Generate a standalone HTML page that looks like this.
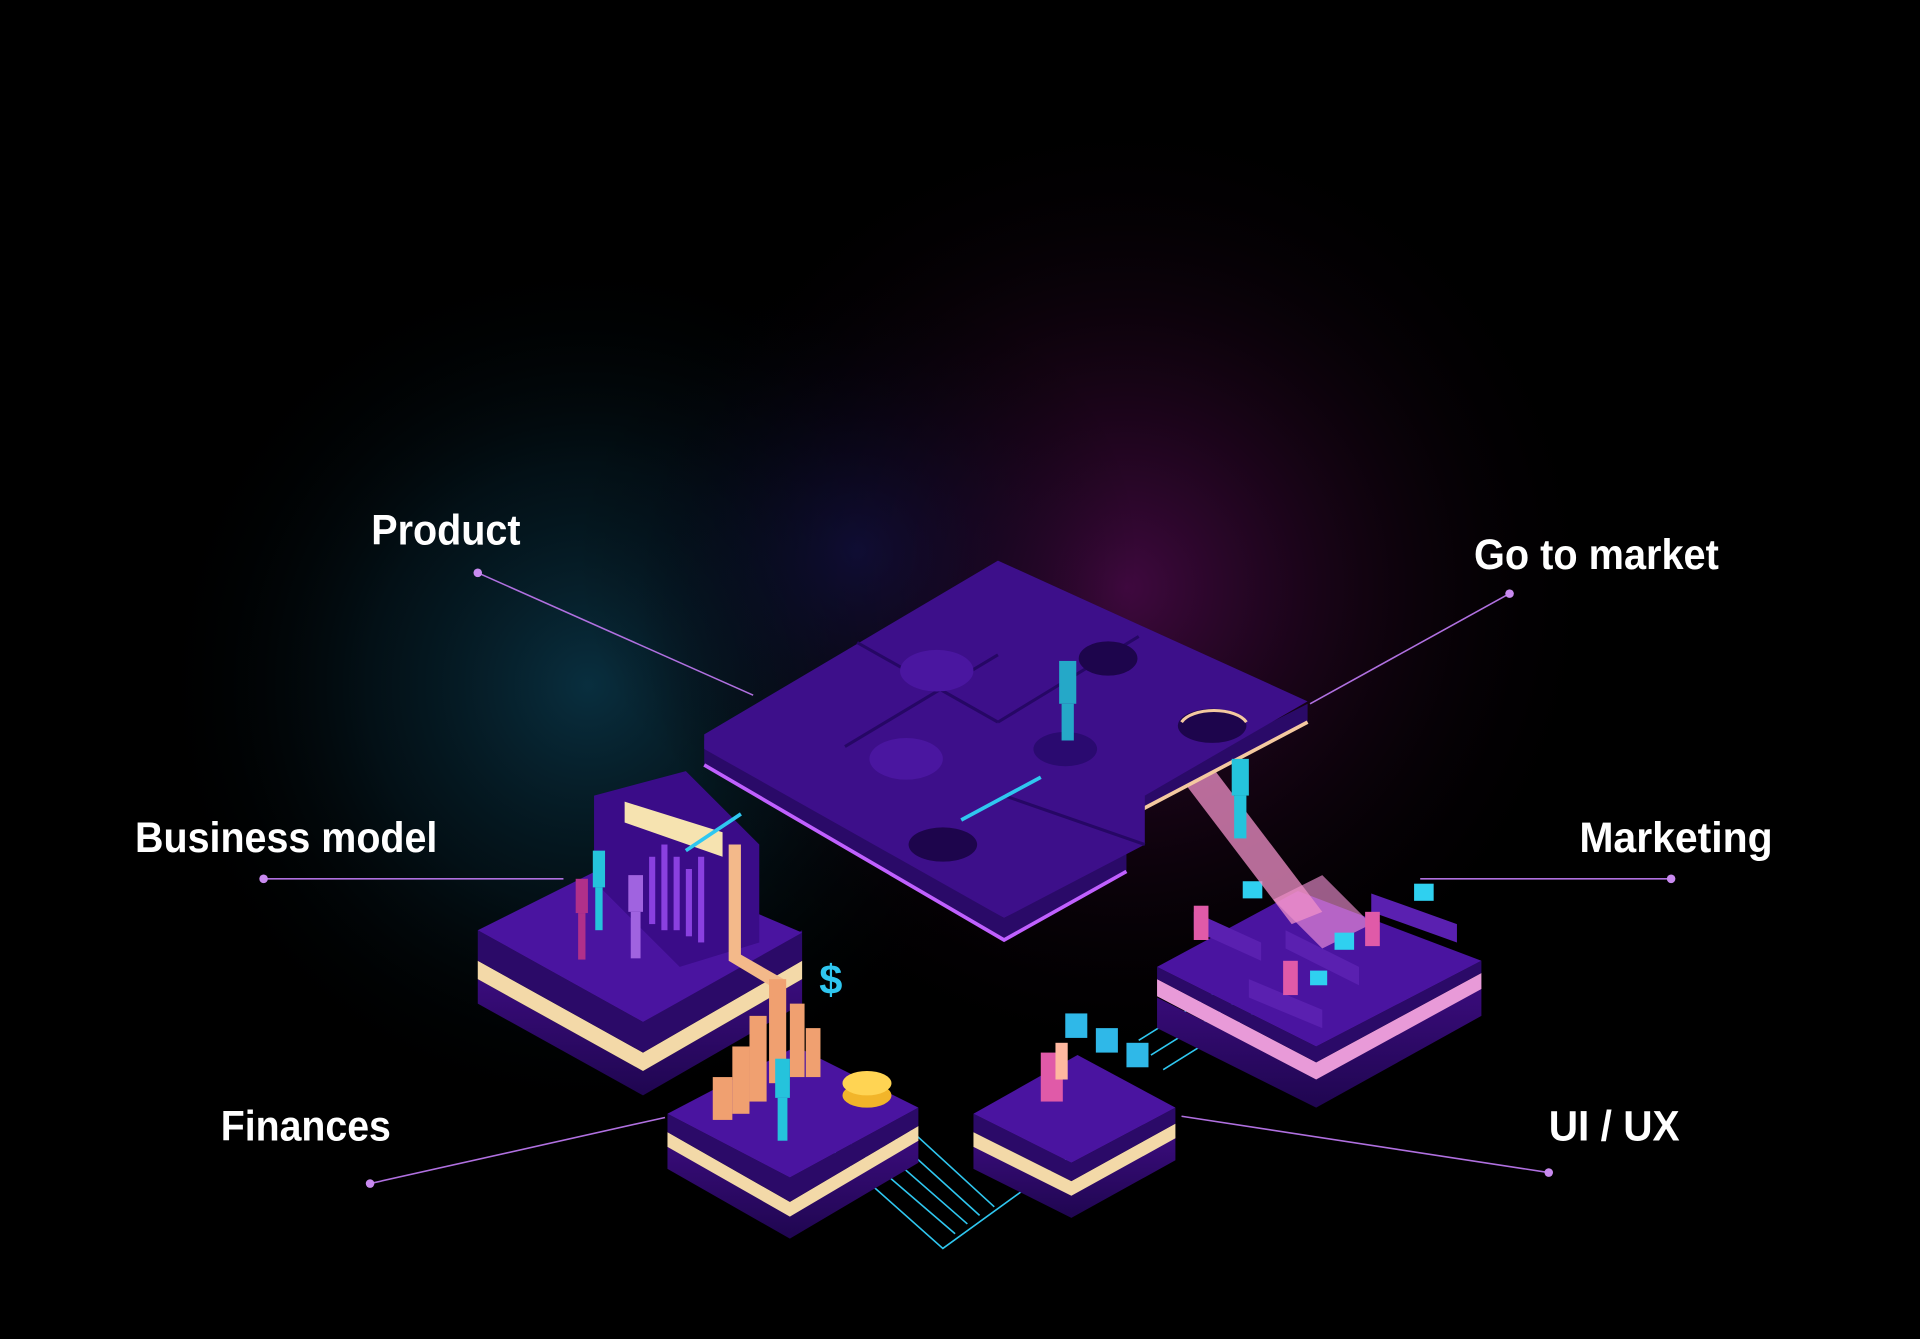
<!DOCTYPE html>
<html><head><meta charset="utf-8"><style>
html,body{margin:0;padding:0;background:#000;}
svg{display:block}
text{font-family:"Liberation Sans Narrow","Liberation Sans",sans-serif;font-weight:bold;fill:#fff;}
</style></head><body>
<svg width="1920" height="1339" viewBox="0 0 1568 1094" xmlns="http://www.w3.org/2000/svg">
<defs>
<radialGradient id="g1" cx="480" cy="560" r="360" gradientUnits="userSpaceOnUse">
<stop offset="0" stop-color="#0b3a4e" stop-opacity="0.8"/><stop offset="0.5" stop-color="#06202c" stop-opacity="0.5"/><stop offset="1" stop-color="#000" stop-opacity="0"/></radialGradient>
<radialGradient id="g2" cx="920" cy="480" r="400" gradientUnits="userSpaceOnUse">
<stop offset="0" stop-color="#4a0a4a" stop-opacity="0.85"/><stop offset="0.5" stop-color="#22061f" stop-opacity="0.5"/><stop offset="1" stop-color="#000" stop-opacity="0"/></radialGradient>
<radialGradient id="g3" cx="700" cy="450" r="230" gradientUnits="userSpaceOnUse">
<stop offset="0" stop-color="#10124a" stop-opacity="0.6"/><stop offset="1" stop-color="#000" stop-opacity="0"/></radialGradient>
<linearGradient id="side" x1="0" y1="0" x2="0" y2="1"><stop offset="0" stop-color="#3a0c7c"/><stop offset="1" stop-color="#1f0650"/></linearGradient>
</defs>
<rect width="1568" height="1094" fill="#000"/>
<rect width="1568" height="1094" fill="url(#g1)"/>
<rect width="1568" height="1094" fill="url(#g2)"/>
<rect width="1568" height="1094" fill="url(#g3)"/>

<g stroke="#b070e0" stroke-width="1.3" fill="none">
<line x1="390" y1="468" x2="615" y2="568"/>
<line x1="1233" y1="485" x2="1070" y2="575"/>
<line x1="215" y1="718" x2="460" y2="718"/>
<line x1="1365" y1="718" x2="1160" y2="718"/>
<line x1="302" y1="967" x2="543" y2="913"/>
<line x1="1265" y1="958" x2="965" y2="912"/>
</g>
<g fill="#c98af0">
<circle cx="390" cy="468" r="3.5"/><circle cx="1233" cy="485" r="3.5"/><circle cx="215" cy="718" r="3.5"/>
<circle cx="1365" cy="718" r="3.5"/><circle cx="302" cy="967" r="3.5"/><circle cx="1265" cy="958" r="3.5"/>
</g>

<g stroke="#2fc7f0" stroke-width="1.3" fill="none">
<path d="M680 940 L770 1020 L915 915"/>
<path d="M695 935 L780 1008"/><path d="M710 930 L790 1000"/><path d="M725 925 L800 993"/><path d="M740 920 L812 986"/>
<path d="M930 850 L1010 800"/><path d="M940 862 L1020 812"/><path d="M950 874 L1030 824"/>
</g>

<polygon points="390,800 390,820 525,895 655,820 655,800 525,875" fill="url(#side)"/>
<polygon points="390,785 525,860 655,785 655,800 525,875 390,800" fill="#f3d9a8"/>
<polygon points="390,760 390,785 525,860 655,785 655,760 525,835" fill="#2b0a68"/>
<polygon points="390,760 510,700 655,762 525,835" fill="#4a14a0"/>
<polygon points="485,650 560,630 620,690 620,770 555,790 485,720" fill="#3a0c88"/>
<polygon points="510,655 590,680 590,700 510,672" fill="#f6e3b0"/>
<g fill="#8a40e0"><rect x="530" y="700" width="5" height="55"/><rect x="540" y="690" width="5" height="70"/><rect x="550" y="700" width="5" height="60"/><rect x="560" y="710" width="5" height="55"/><rect x="570" y="700" width="5" height="70"/></g>
<polygon points="595,690 605,690 605,780 640,800 630,806 595,785" fill="#f3b98a"/>
<g fill="#25c3dc"><rect x="484" y="695" width="10" height="30"/><rect x="486" y="725" width="6" height="35"/></g>
<g fill="#a063e0"><rect x="513" y="715" width="12" height="30"/><rect x="515" y="745" width="8" height="38"/></g>
<g fill="#b0308a"><rect x="470" y="718" width="10" height="28"/><rect x="472" y="746" width="6" height="38"/></g>

<polygon points="545,935 545,955 645,1012 750,950 750,930 645,992" fill="url(#side)"/>
<polygon points="545,925 645,982 750,920 750,932 645,994 545,937" fill="#f3d9a8"/>
<polygon points="545,910 545,925 645,982 750,920 750,905 645,962" fill="#2b0a68"/>
<polygon points="545,910 650,855 750,905 645,962" fill="#4a14a0"/>
<g fill="#f0a070"><rect x="582" y="880" width="16" height="35"/><rect x="598" y="855" width="14" height="55"/><rect x="612" y="830" width="14" height="70"/><rect x="628" y="800" width="14" height="85"/><rect x="645" y="820" width="12" height="60"/><rect x="658" y="840" width="12" height="40"/></g>
<ellipse cx="708" cy="895" rx="20" ry="10" fill="#f2b52a"/><ellipse cx="708" cy="885" rx="20" ry="10" fill="#ffd453"/>
<g fill="#25c3dc"><rect x="633" y="865" width="12" height="32"/><rect x="635" y="897" width="8" height="35"/></g>
<text x="669" y="812" font-size="34" style="fill:#2fc7f0">$</text>

<polygon points="795,935 795,955 875,995 960,948 960,928 875,975" fill="url(#side)"/>
<polygon points="795,925 875,965 960,918 960,930 875,977 795,937" fill="#f3d9a8"/>
<polygon points="795,910 795,925 875,965 960,918 960,905 875,950" fill="#2b0a68"/>
<polygon points="795,910 880,862 960,905 875,950" fill="#4a14a0"/>
<g fill="#2fb8e8"><rect x="870" y="828" width="18" height="20"/><rect x="895" y="840" width="18" height="20"/><rect x="920" y="852" width="18" height="20"/></g>
<rect x="850" y="860" width="18" height="40" fill="#e05aa8"/>
<rect x="862" y="852" width="10" height="30" fill="#ffb8a0"/>

<polygon points="945,815 945,840 1075,905 1210,830 1210,805 1075,880" fill="url(#side)"/>
<polygon points="945,800 1075,868 1210,795 1210,808 1075,882 945,814" fill="#e89ad8"/>
<polygon points="945,790 945,800 1075,868 1210,795 1210,785 1075,855" fill="#2b0a68"/>
<polygon points="945,790 1060,728 1210,785 1075,855" fill="#4a14a0"/>
<polygon points="1040,735 1080,715 1120,755 1080,775" fill="#ff9ae0" opacity="0.6"/>
<g fill="#5a20b0"><polygon points="975,745 1030,770 1030,785 975,760"/><polygon points="1050,760 1110,790 1110,805 1050,775"/><polygon points="1120,730 1190,755 1190,770 1120,745"/><polygon points="1020,800 1080,825 1080,840 1020,815"/></g>
<g fill="#2fd0f0"><rect x="1015" y="720" width="16" height="14"/><rect x="1090" y="762" width="16" height="14"/><rect x="1155" y="722" width="16" height="14"/><rect x="1070" y="793" width="14" height="12"/></g>
<g fill="#e05aa8"><rect x="975" y="740" width="12" height="28"/><rect x="1115" y="745" width="12" height="28"/><rect x="1048" y="785" width="12" height="28"/></g>
<polygon points="960,630 985,620 1080,745 1055,755" fill="#f090c8" opacity="0.75"/>

<polygon points="575,605 575,625 820,768 920,712 920,695 820,750" fill="#2a0a68"/>
<polygon points="920,650 1068,575 1068,590 920,668" fill="#2a0a68"/>
<polyline points="575,625 820,768 920,712" stroke="#c060ff" stroke-width="3" fill="none"/>
<polyline points="920,668 1068,590" stroke="#f4c9a0" stroke-width="3" fill="none"/>
<polygon points="575,600 815,458 1068,573 935,650 935,690 820,750 575,612" fill="#3d0f8a"/>
<path d="M700 525 L815 590 M690 610 L815 535 M815 590 L930 520 M820 650 L935 690" stroke="#260765" stroke-width="2.5" fill="none"/>
<ellipse cx="765" cy="548" rx="30" ry="17" fill="#4a16a0"/>
<ellipse cx="740" cy="620" rx="30" ry="17" fill="#4a16a0"/>
<ellipse cx="905" cy="538" rx="24" ry="14" fill="#1d054c"/>
<ellipse cx="990" cy="593" rx="28" ry="14" fill="#1d054c"/>
<ellipse cx="870" cy="612" rx="26" ry="14" fill="#2a0a70"/>
<ellipse cx="770" cy="690" rx="28" ry="14" fill="#1d054c"/>
<path d="M965 590 A28 14 0 0 1 1018 590" stroke="#f4c9a0" stroke-width="2.5" fill="none"/>
<line x1="785" y1="670" x2="850" y2="635" stroke="#2fc7f0" stroke-width="3"/>
<line x1="560" y1="695" x2="605" y2="665" stroke="#2fc7f0" stroke-width="3"/>
<g fill="#25a8c8"><rect x="865" y="540" width="14" height="35"/><rect x="867" y="575" width="10" height="30"/></g>
<g fill="#25c3dc"><rect x="1006" y="620" width="14" height="30"/><rect x="1008" y="650" width="10" height="35"/></g>

<text x="303" y="445" font-size="35" textLength="122" lengthAdjust="spacingAndGlyphs">Product</text>
<text x="1204" y="465" font-size="35" textLength="200" lengthAdjust="spacingAndGlyphs">Go to market</text>
<text x="110" y="696" font-size="35" textLength="247" lengthAdjust="spacingAndGlyphs">Business model</text>
<text x="1290" y="696" font-size="35" textLength="158" lengthAdjust="spacingAndGlyphs">Marketing</text>
<text x="180" y="932" font-size="35" textLength="139" lengthAdjust="spacingAndGlyphs">Finances</text>
<text x="1265" y="932" font-size="35" textLength="107" lengthAdjust="spacingAndGlyphs">UI / UX</text>
</svg>
</body></html>
